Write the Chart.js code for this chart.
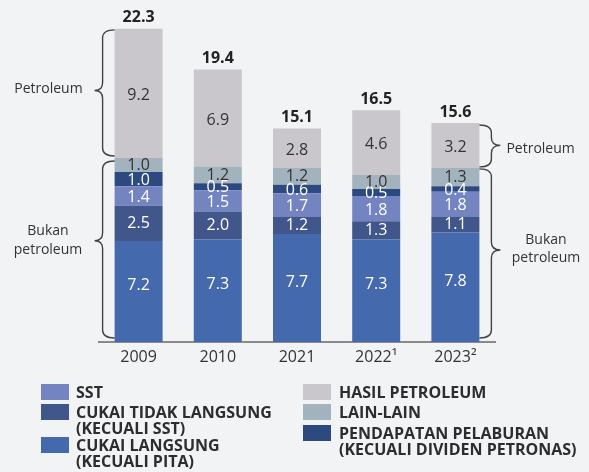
<!DOCTYPE html>
<html>
<head>
<meta charset="utf-8">
<script src="https://cdn.jsdelivr.net/npm/chart.js@4/dist/chart.umd.min.js"></script>
<style>
    body { margin: 0; background: #f2f3f5; }
    #wrap { position: relative; width: 589px; height: 472px; font-family: "Open Sans", sans-serif; }
    #chart { position: absolute; left: 0; top: 0; }
    .item { position: absolute; }
    .item .box { position: absolute; left: 0; top: 0; width: 28px; height: 16px; }
    .item .txt { position: absolute; top: 0; white-space: nowrap; font-size: 16px; font-weight: 700; line-height: 16px; color: #2d2d2d; }
</style>
</head>
<body>
<div id="wrap">
    <canvas id="chart" width="589" height="472"></canvas>
</div>
<script>
const categories = ['2009', '2010', '2021', '2022¹', '2023²'];
const cukaiLangsung = [7.2, 7.3, 7.7, 7.3, 7.8];
const cukaiTidakLangsung = [2.5, 2.0, 1.2, 1.3, 1.1];
const sst = [1.4, 1.5, 1.7, 1.8, 1.8];
const pendapatanPelaburan = [1.0, 0.5, 0.6, 0.5, 0.4];
const lainLain = [1.0, 1.2, 1.2, 1.0, 1.3];
const hasilPetroleum = [9.2, 6.9, 2.8, 4.6, 3.2];
const totals = [22.3, 19.4, 15.1, 16.5, 15.6];

const datasets = [
    { label: ['CUKAI LANGSUNG', '(KECUALI PITA)'], data: cukaiLangsung, backgroundColor: '#4469ad', labelColor: '#ffffff', labelShift: -6 },
    { label: ['CUKAI TIDAK LANGSUNG', '(KECUALI SST)'], data: cukaiTidakLangsung, backgroundColor: '#41568a', labelColor: '#ffffff', labelShift: 0 },
    { label: ['SST'], data: sst, backgroundColor: '#7384c0', labelColor: '#ffffff', labelShift: 1.5 },
    { label: ['PENDAPATAN PELABURAN', '(KECUALI DIVIDEN PETRONAS)'], data: pendapatanPelaburan, backgroundColor: '#2c4a80', labelColor: '#ffffff', labelShift: 1 },
    { label: ['LAIN-LAIN'], data: lainLain, backgroundColor: '#a3b3be', labelColor: '#333333', labelShift: 0.5 },
    { label: ['HASIL PETROLEUM'], data: hasilPetroleum, backgroundColor: '#c9c7cb', labelColor: '#333333', labelShift: 2 }
];

// legend placement: [dataset index, box left, box top]
const legendSpots = [[2, 41, 384], [1, 41, 404], [0, 41, 437], [5, 303, 384], [4, 303, 404], [3, 303, 425]];

function drawBrace(ctx, xEnd, xSpine, xTip, yTop, yBot, yMid) {
    const r = 8;
    ctx.beginPath();
    ctx.moveTo(xEnd, yTop);
    ctx.quadraticCurveTo(xSpine, yTop, xSpine, yTop + r);
    ctx.lineTo(xSpine, yMid - r);
    ctx.quadraticCurveTo(xSpine, yMid, xTip, yMid);
    ctx.quadraticCurveTo(xSpine, yMid, xSpine, yMid + r);
    ctx.lineTo(xSpine, yBot - r);
    ctx.quadraticCurveTo(xSpine, yBot, xEnd, yBot);
    ctx.stroke();
}

const labelPlugin = {
    id: 'labels',
    afterDatasetsDraw(chart) {
        const ctx = chart.ctx;
        ctx.save();
        ctx.textAlign = 'center';
        ctx.textBaseline = 'middle';
        ctx.font = '16px "Open Sans"';
        chart.data.datasets.forEach((ds, i) => {
            chart.getDatasetMeta(i).data.forEach((bar, j) => {
                ctx.fillStyle = ds.labelColor;
                ctx.fillText(ds.data[j].toFixed(1), bar.x, (bar.y + bar.base) / 2 + ds.labelShift);
            });
        });
        // totals on top
        const top = chart.getDatasetMeta(chart.data.datasets.length - 1).data;
        ctx.font = 'bold 16px "Open Sans"';
        ctx.fillStyle = '#222222';
        top.forEach((bar, j) => {
            ctx.fillText(totals[j].toFixed(1), bar.x, bar.y - 11);
        });

        // braces
        const last = chart.data.datasets.length - 1;
        const petrolTop = chart.getDatasetMeta(last).data;
        const lainTop = chart.getDatasetMeta(4).data;
        const base = chart.scales.y.getPixelForValue(0);
        ctx.strokeStyle = '#444444';
        ctx.lineWidth = 1.4;

        const b0 = petrolTop[0];
        const lx = b0.x - b0.width / 2;
        drawBrace(ctx, lx, lx - 12, lx - 20, b0.y + 1, lainTop[0].y - 2, (b0.y + lainTop[0].y) / 2 - 3);
        const t1 = lainTop[0].y + 3, t2 = base - 4;
        drawBrace(ctx, lx, lx - 12, lx - 20, t1, t2, t1 + (t2 - t1) * 0.45);

        const b4 = petrolTop[4];
        const rx = b4.x + b4.width / 2;
        drawBrace(ctx, rx, rx + 12, rx + 21, b4.y + 2, lainTop[4].y - 1, (b4.y + lainTop[4].y) / 2);
        const s1 = lainTop[4].y + 1;
        drawBrace(ctx, rx, rx + 12, rx + 21, s1, t2, s1 + (t2 - s1) * 0.48);

        ctx.fillStyle = '#333333';
        ctx.font = '14px "Open Sans"';
        ctx.textAlign = 'right';
        ctx.fillText('Petroleum', lx - 32, (b0.y + lainTop[0].y) / 2 - 4);
        ctx.textAlign = 'center';
        ctx.fillText('Bukan', 48, t1 + (t2 - t1) * 0.45 - 10);
        ctx.fillText('petroleum', 48, t1 + (t2 - t1) * 0.45 + 9);
        ctx.textAlign = 'left';
        ctx.fillText('Petroleum', rx + 27, (b4.y + lainTop[4].y) / 2 + 4);
        ctx.textAlign = 'center';
        ctx.fillText('Bukan', 546, s1 + (t2 - s1) * 0.48 - 10);
        ctx.fillText('petroleum', 546, s1 + (t2 - s1) * 0.48 + 8);
        ctx.restore();
    }
};

const ctx = document.getElementById('chart').getContext('2d');
const chart = new Chart(ctx, {
    type: 'bar',
    data: {
        labels: categories,
        datasets: datasets.map(d => ({
            label: d.label.join(' '),
            data: d.data,
            backgroundColor: d.backgroundColor,
            labelColor: d.labelColor,
            labelShift: d.labelShift,
            barPercentage: 0.606,
            categoryPercentage: 1
        }))
    },
    options: {
        responsive: false,
        animation: false,
        layout: { padding: { left: 99, right: 94, top: 5, bottom: 100 } },
        plugins: { legend: { display: false }, tooltip: { enabled: false } },
        scales: {
            x: {
                stacked: true,
                grid: { display: false, drawTicks: false },
                border: { display: true, color: '#8a8a8a', width: 2 },
                ticks: { color: '#333333', font: { family: 'Open Sans', size: 16 }, padding: 6 },
                afterFit: (s) => { s.height = 30; }
            },
            y: {
                stacked: true,
                display: false,
                min: 0,
                max: 24
            }
        }
    },
    plugins: [labelPlugin]
});

// legend
const wrap = document.getElementById('wrap');
legendSpots.forEach(([i, x, y]) => {
    const d = datasets[i];
    const item = document.createElement('div');
    item.className = 'item';
    item.style.left = x + 'px';
    item.style.top = y + 'px';
    item.innerHTML = '<span class="box" style="background:' + d.backgroundColor + '"></span>' +
        '<div class="txt" style="left:' + (x < 100 ? 35 : 36) + 'px">' + d.label.join('<br>') + '</div>';
    wrap.appendChild(item);
});
</script>
</body>
</html>
